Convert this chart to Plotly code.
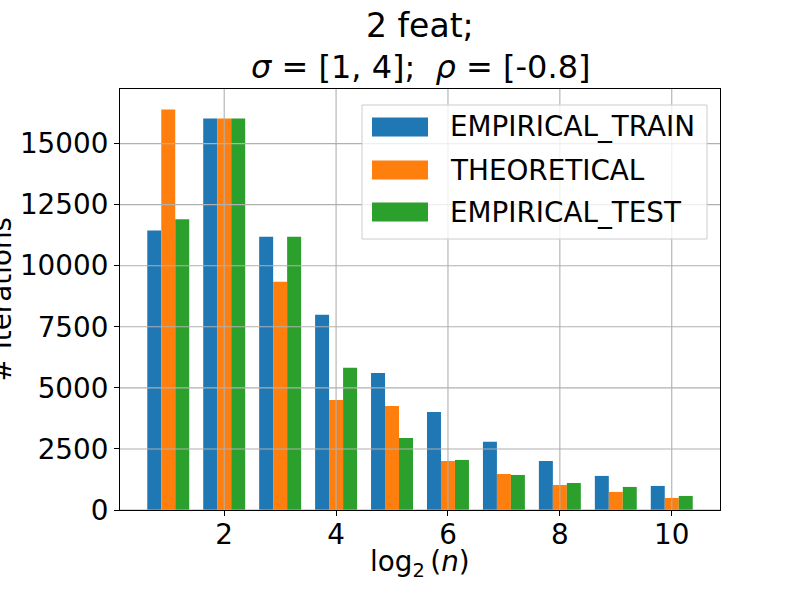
import plotly.graph_objects as go

# ---- data ----
log2_n = [1, 2, 3, 4, 5, 6, 7, 8, 9, 10]
empirical_train = [11440, 16030, 11190, 7990, 5610, 4015, 2790, 2005, 1395, 985]
theoretical = [16400, 16030, 9345, 4505, 4260, 2005, 1475, 1025, 740, 495]
empirical_test = [11900, 16030, 11190, 5820, 2950, 2050, 1435, 1105, 945, 575]

series_names = ["EMPIRICAL_TRAIN", "THEORETICAL", "EMPIRICAL_TEST"]
series_values = [empirical_train, theoretical, empirical_test]
colors = ["#1f77b4", "#ff7f0e", "#2ca02c"]
offsets = [-0.375, -0.125, 0.125]
bar_width = 0.25

x_ticks = [2, 4, 6, 8, 10]
y_ticks = [0, 2500, 5000, 7500, 10000, 12500, 15000]
x_range = [0.1375, 10.8625]
y_range = [0, 17235]

title_line1 = "2 feat;"
title_line2 = "<i>σ</i> = [1, 4]; \u00a0<i>ρ</i> = [-0.8]"
x_title = "log<sub>2</sub>\u2009(<i>n</i>)"
y_title = "# Iterations"

FONT = "DejaVu Sans"
W, H = 800, 600
L, R, T, B = 120, 80, 89, 90
PW, PH = W - L - R, H - T - B


def px_x(px):
    return (px - L) / PW


def px_y(py):
    return (H - B - py) / PH


fig = go.Figure()
for name, vals, col, off in zip(series_names, series_values, colors, offsets):
    fig.add_trace(go.Bar(
        x=log2_n, y=vals, name=name, marker_color=col,
        marker_line_width=0, width=bar_width, offset=off,
        showlegend=False,
    ))

shapes = []
# gridlines on top of bars (matplotlib default)
for xv in x_ticks:
    shapes.append(dict(type="line", xref="x", yref="paper", x0=xv, x1=xv, y0=0, y1=1,
                       line=dict(color="#b0b0b0", width=1.1), layer="above"))
for yv in y_ticks:
    shapes.append(dict(type="line", xref="paper", yref="y", x0=0, x1=1, y0=yv, y1=yv,
                       line=dict(color="#b0b0b0", width=1.1), layer="above"))

# custom legend box
shapes.append(dict(type="rect", xref="paper", yref="paper",
                   x0=px_x(362), x1=px_x(707), y0=px_y(239), y1=px_y(105),
                   fillcolor="rgba(255,255,255,0.8)", line=dict(color="#cccccc", width=1),
                   layer="above"))
annotations = []
row_centers = [127, 170, 212]
for name, col, cy in zip(series_names, colors, row_centers):
    shapes.append(dict(type="rect", xref="paper", yref="paper",
                       x0=px_x(372), x1=px_x(428), y0=px_y(cy + 9.5), y1=px_y(cy - 9.5),
                       fillcolor=col, line=dict(width=0), layer="above"))
    annotations.append(dict(text=name, xref="paper", yref="paper", x=px_x(448), y=px_y(cy),
                            xanchor="left", yanchor="middle", showarrow=False,
                            font=dict(family=FONT, size=27.8, color="black")))

# titles
annotations.append(dict(text=title_line1, xref="paper", yref="paper", x=0.5, y=px_y(26),
                        xanchor="center", yanchor="middle", showarrow=False,
                        font=dict(family=FONT, size=33, color="black")))
annotations.append(dict(text=title_line2, xref="paper", yref="paper", x=0.5, y=px_y(67),
                        xanchor="center", yanchor="middle", showarrow=False,
                        font=dict(family=FONT, size=32, color="black")))
# y axis label (partly off-canvas as in the reference)
annotations.append(dict(text=y_title, xref="paper", yref="paper", x=px_x(1), y=0.5,
                        xanchor="center", yanchor="middle", textangle=-90, showarrow=False,
                        font=dict(family=FONT, size=27.8, color="black")))
# x axis label
annotations.append(dict(text=x_title, xref="paper", yref="paper", x=0.5, y=px_y(563),
                        xanchor="center", yanchor="middle", showarrow=False,
                        font=dict(family=FONT, size=27.8, color="black")))

fig.update_layout(
    width=W, height=H,
    margin=dict(l=L, r=R, t=T, b=B, pad=0),
    paper_bgcolor="white", plot_bgcolor="white",
    barmode="overlay",
    font=dict(family=FONT, size=27.8, color="black"),
    shapes=shapes, annotations=annotations,
    xaxis=dict(range=x_range, tickvals=x_ticks, ticktext=[str(v) for v in x_ticks],
               showgrid=False, zeroline=False, showline=True, linecolor="black",
               linewidth=1.1, mirror=True, ticks="outside", ticklen=5, tickwidth=1.1,
               tickcolor="black", tickfont=dict(family=FONT, size=27.8, color="black"),
               ticklabelstandoff=-5, layer="above traces"),
    yaxis=dict(range=y_range, tickvals=y_ticks, ticktext=[str(v) for v in y_ticks],
               showgrid=False, zeroline=False, showline=True, linecolor="black",
               linewidth=1.1, mirror=True, ticks="outside", ticklen=5, tickwidth=1.1,
               tickcolor="black", tickfont=dict(family=FONT, size=27.8, color="black"),
               layer="above traces"),
)

fig.write_html("out.html")
